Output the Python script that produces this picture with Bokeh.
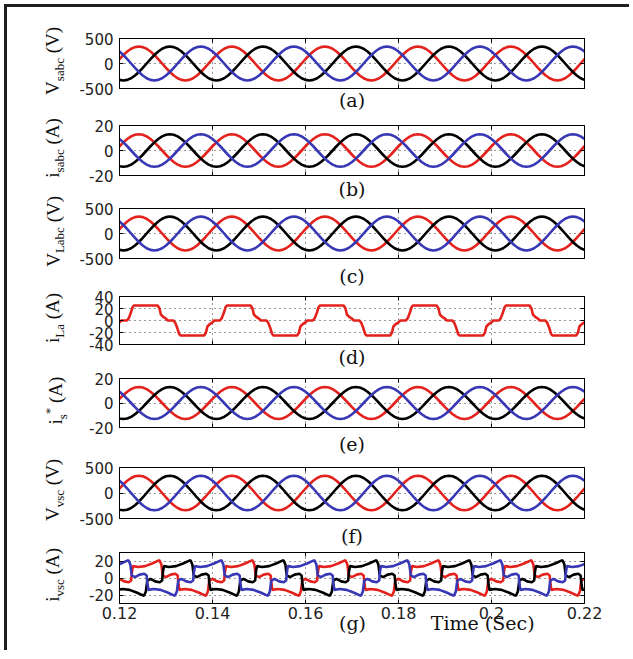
from bokeh.plotting import figure
from bokeh.models import Range1d, FixedTicker, LinearAxis, Div
from bokeh.layouts import column, row
from bokeh.embed import file_html
from bokeh.resources import INLINE

# ---------------- data ----------------
X_TICKS = [0.12, 0.14, 0.16, 0.18, 0.2, 0.22]
X_TICK_LABELS = ["0.12", "0.14", "0.16", "0.18", "0.2", "0.22"]
T0 = 0.12
PERIOD = 0.02            # 5 mains cycles in the 0.1 s window
PHASE_LAG = PERIOD / 3   # 120 degrees between phases

# one cycle of phase a, sampled every 15 deg starting at t = 0.12 s
VSABC_CYCLE = [88, 170, 240, 294, 328, 340, 328, 294, 240, 170, 88, 0,
               -88, -170, -240, -294, -328, -340, -328, -294, -240, -170, -88, 0]
ISABC_CYCLE = [3.4, 6.5, 9.2, 11.3, 12.6, 13, 12.6, 11.3, 9.2, 6.5, 3.4, 0,
               -3.4, -6.5, -9.2, -11.3, -12.6, -13, -12.6, -11.3, -9.2, -6.5, -3.4, 0]
VLABC_CYCLE = [88, 170, 240, 294, 328, 340, 328, 294, 240, 170, 88, 0,
               -88, -170, -240, -294, -328, -340, -328, -294, -240, -170, -88, 0]
ISREF_CYCLE = [3.4, 6.5, 9.2, 11.3, 12.6, 13, 12.6, 11.3, 9.2, 6.5, 3.4, 0,
               -3.4, -6.5, -9.2, -11.3, -12.6, -13, -12.6, -11.3, -9.2, -6.5, -3.4, 0]
VVSC_CYCLE = [88, 170, 240, 294, 328, 340, 328, 294, 240, 170, 88, 0,
              -88, -170, -240, -294, -328, -340, -328, -294, -240, -170, -88, 0]

# load current of phase a, one cycle (ms after the cycle start, amps)
ILA_MS = [0.0, 0.4, 1.6, 2.0, 2.4, 2.8, 3.1, 8.2, 8.6, 8.9, 9.4, 10.0,
          10.4, 11.6, 12.0, 12.4, 12.8, 13.1, 18.2, 18.6, 18.9, 19.4]
ILA_VAL = [-3, 0, 0, 4, 12, 22, 25, 25, 20, 10, 6, 3,
           0, 0, -4, -12, -22, -25, -25, -20, -10, -6]

# VSC current of phase a, one cycle (ms after the cycle start, amps)
IVSC_MS = [0.0, 1.0, 2.0, 2.5, 2.7, 2.9, 4.0, 5.5, 7.0, 8.6, 9.0, 9.3,
           10.0, 11.0, 12.0, 12.5, 12.7, 12.9, 14.0, 15.5, 17.0, 18.6, 19.0, 19.3]
IVSC_VAL = [-1, -4, -5, -3, 8, 14, 13, 14, 17, 21, 16, 3,
            1, 4, 5, 3, -8, -14, -13, -14, -17, -21, -16, -3]

V_TICKS = [-500, 0, 500]
I_TICKS = [-20, 0, 20]
IL_TICKS = [-40, -20, 0, 20, 40]

CAPTIONS = ["(a)", "(b)", "(c)", "(d)", "(e)", "(f)", "(g)"]
X_TITLE = "Time (Sec)"
# y titles: (main letter, subscript, superscript, unit)
Y_TITLES = [("V", "sabc", "", "(V)"), ("i", "sabc", "", "(A)"), ("V", "Labc", "", "(V)"),
            ("i", "La", "", "(A)"), ("i", "s", "*", "(A)"), ("V", "vsc", "", "(V)"),
            ("i", "vsc", "", "(A)")]

RED, BLUE, BLACK = "#e3221d", "#3838b4", "#000000"

SAMPLE_MS = [k * PERIOD * 1000 / 24 for k in range(24)]


def tiled(ms_list, vals, shift):
    xs, ys = [], []
    for c in range(-1, 6):
        for ms, v in zip(ms_list, vals):
            xs.append(T0 + c * PERIOD + ms / 1000.0 + shift)
            ys.append(v)
    return xs, ys


def three_phase(ms_list, vals):
    # a = red, b = black (lags 120 deg), c = blue (leads 120 deg)
    return [(tiled(ms_list, vals, 0.0), RED),
            (tiled(ms_list, vals, PHASE_LAG), BLACK),
            (tiled(ms_list, vals, -PHASE_LAG), BLUE)]


# ---------------- layout ----------------
LABEL_W = 66
PLOT_W = 556
LEFT = 46
RIGHT = 45
SERIF = "DejaVu Serif"
SANS = "DejaVu Sans"


def y_title(height, top, bottom, spec):
    main, sub, sup, unit = spec
    frame_h = height - top - bottom
    dx = 16
    dy = top + frame_h / 2 - height / 2 - 3
    sup_html = f'<sup style="font-size:13px;">{sup}</sup>' if sup else ""
    html = (f'<div style="width:{LABEL_W}px;height:{height}px;display:flex;align-items:center;'
            f'justify-content:center;overflow:visible;">'
            f'<span style="display:inline-block;white-space:nowrap;font-family:\'Liberation Serif\',serif;'
            f'font-size:19px;line-height:19px;color:#111111;'
            f'transform:translate({dx}px,{dy}px) rotate(-90deg);">'
            f'{main}<sub style="font-size:13px;">{sub}</sub>{sup_html} {unit}</span></div>')
    return Div(text=html, width=LABEL_W, height=height, margin=0)


def panel(series, yr, yticks, spec, caption, height, top, bottom, cap_standoff, last=False):
    p = figure(width=PLOT_W, height=height, x_range=Range1d(0.12, 0.22), y_range=Range1d(*yr),
               output_backend="svg", toolbar_location=None,
               min_border_left=LEFT, min_border_right=RIGHT,
               min_border_top=top, min_border_bottom=bottom)
    p.background_fill_color = "white"
    p.border_fill_color = "white"
    p.outline_line_color = "black"
    p.outline_line_width = 1

    for (xs, ys), col in series:
        p.line(xs, ys, line_color=col, line_width=2.6)

    xt = FixedTicker(ticks=X_TICKS)
    yt = FixedTicker(ticks=yticks)
    for g, t in ((p.xgrid, xt), (p.ygrid, yt)):
        g.ticker = t
        g.grid_line_color = "#333333"
        g.grid_line_dash = "1 4"
        g.grid_line_width = 1

    ax = p.xaxis[0]
    ax.ticker = xt
    ax.major_tick_in = 4
    ax.major_tick_out = 0
    ax.minor_tick_line_color = None
    ax.axis_line_color = "black"
    if last:
        ax.major_label_overrides = {t: l for t, l in zip(X_TICKS, X_TICK_LABELS)}
        ax.major_label_text_font = SANS
        ax.major_label_text_font_size = "16px"
        ax.major_label_text_color = "#222222"
        ax.major_label_standoff = 3
        # caption line under the tick labels: "(g)" and the time title
        cap_pos = [0.1701, 0.1981]
        cap_axis = LinearAxis(ticker=FixedTicker(ticks=cap_pos), major_tick_in=0, major_tick_out=0,
                              minor_tick_line_color=None, axis_line_color=None,
                              major_label_overrides={cap_pos[0]: caption, cap_pos[1]: X_TITLE},
                              major_label_text_font=SERIF, major_label_text_font_size="19px",
                              major_label_text_color="#111111", major_label_standoff=cap_standoff)
        p.add_layout(cap_axis, "below")
    else:
        ax.major_label_overrides = {t: "" for t in X_TICKS}
        ax.major_label_text_font_size = "0px"
        ax.major_label_standoff = 0
        ax.axis_label = caption
        ax.axis_label_text_font = SERIF
        ax.axis_label_text_font_style = "normal"
        ax.axis_label_text_font_size = "19px"
        ax.axis_label_text_color = "#111111"
        ax.axis_label_standoff = cap_standoff

    ay = p.yaxis[0]
    ay.ticker = yt
    ay.major_tick_in = 4
    ay.major_tick_out = 0
    ay.minor_tick_line_color = None
    ay.axis_line_color = "black"
    ay.major_label_overrides = {t: str(t) for t in yticks}
    ay.major_label_text_font = SANS
    ay.major_label_text_font_size = "15px"
    ay.major_label_text_color = "#222222"
    ay.major_label_standoff = 6

    for loc, tk in (("above", xt), ("right", yt)):
        a2 = LinearAxis(ticker=tk, major_tick_in=4, major_tick_out=0,
                        minor_tick_line_color=None, axis_line_color="black",
                        major_label_overrides={t: "" for t in tk.ticks},
                        major_label_text_font_size="0px", major_label_standoff=0)
        p.add_layout(a2, loc)

    return row(y_title(height, top, bottom, spec), p, spacing=0)


ra = panel(three_phase(SAMPLE_MS, VSABC_CYCLE), (-500, 500), V_TICKS, Y_TITLES[0],
           CAPTIONS[0], 106, 31, 23, 0)
rb = panel(three_phase(SAMPLE_MS, ISABC_CYCLE), (-20, 20), I_TICKS, Y_TITLES[1],
           CAPTIONS[1], 89, 12, 26, 2)
rc = panel(three_phase(SAMPLE_MS, VLABC_CYCLE), (-500, 500), V_TICKS, Y_TITLES[2],
           CAPTIONS[2], 87, 6, 29, 6)
rd = panel([(tiled(ILA_MS, ILA_VAL, 0.0), RED)], (-40, 40), IL_TICKS, Y_TITLES[3],
           CAPTIONS[3], 81, 7, 25, 1)
re_ = panel(three_phase(SAMPLE_MS, ISREF_CYCLE), (-20, 20), I_TICKS, Y_TITLES[4],
            CAPTIONS[4], 87, 8, 28, 5)
rf = panel(three_phase(SAMPLE_MS, VVSC_CYCLE), (-500, 500), V_TICKS, Y_TITLES[5],
           CAPTIONS[5], 92, 10, 30, 6)
rg = panel(three_phase(IVSC_MS, IVSC_VAL), (-30, 30), I_TICKS, Y_TITLES[6],
           CAPTIONS[6], 101, 3, 47, -10, last=True)

layout = column(ra, rb, rc, rd, re_, rf, rg, spacing=0,
                styles={"border-left": "3px solid #1e1e1e", "border-top": "3px solid #1e1e1e",
                        "border-right": "none", "border-bottom": "none",
                        "position": "relative", "left": "4px", "top": "4px"})

open("out.html", "w").write(file_html(layout, INLINE))
